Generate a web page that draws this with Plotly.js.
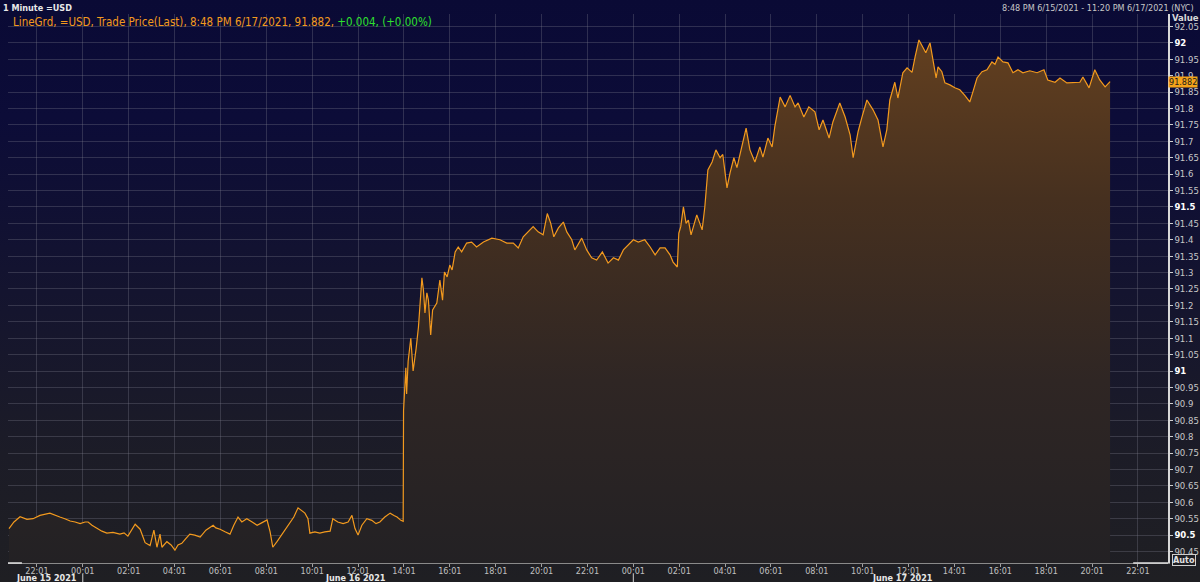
<!DOCTYPE html>
<html>
<head>
<meta charset="utf-8">
<script src="https://cdn.plot.ly/plotly-3.0.1.min.js"></script>
<style>
  html, body { margin: 0; padding: 0; background: #0b0b2c; }
  #chart { width: 1200px; height: 582px;
    background: linear-gradient(to bottom, #0a0a35 0%, #0c0c38 20%, #14142f 50%, #1c1c27 78%, #1f1f23 100%); }
</style>
</head>
<body>
<div id="chart"></div>
<script>
// ---- data ----
const startTime = '2021-06-15T20:48:00';          // first 1-minute bar
// minutes after start time
const minutesAfterStart = [
  0, 13, 29, 47, 63, 81, 107, 120, 133, 146, 160, 173, 186, 199, 207, 217, 230, 243, 256, 272,
  290, 301, 311, 322, 330, 343, 356, 369, 379, 387, 395, 400, 413, 424, 434, 442, 452, 463, 473, 486,
  500, 515, 534, 541, 552, 565, 578, 588, 599, 609, 622, 636, 649, 662, 675, 683, 690, 701, 714, 724,
  735, 745, 756, 766, 774, 782, 787, 800, 813, 826, 840, 847, 860, 874, 887, 897, 905, 913, 923, 936,
  949, 960, 970, 983, 997, 1007, 1015, 1025, 1031, 1032, 1034, 1038, 1040, 1044, 1051, 1057, 1065, 1071, 1080, 1084,
  1088, 1093, 1097, 1103, 1108, 1119, 1127, 1134, 1139, 1146, 1153, 1159, 1167, 1175, 1184, 1197, 1210, 1223, 1241, 1263,
  1284, 1302, 1319, 1332, 1345, 1354, 1371, 1384, 1397, 1408, 1417, 1425, 1437, 1450, 1459, 1472, 1480, 1498, 1511, 1524,
  1537, 1552, 1567, 1581, 1594, 1607, 1620, 1633, 1646, 1663, 1677, 1690, 1703, 1716, 1729, 1737, 1748, 1752, 1757, 1764,
  1771, 1777, 1784, 1799, 1813, 1820, 1828, 1839, 1849, 1860, 1867, 1878, 1886, 1896, 1904, 1917, 1928, 1938, 1951, 1964,
  1972, 1985, 1996, 2003, 2017, 2030, 2043, 2056, 2064, 2079, 2092, 2108, 2119, 2129, 2145, 2155, 2173, 2187, 2200, 2208,
  2221, 2231, 2244, 2260, 2273, 2286, 2296, 2304, 2317, 2325, 2338, 2349, 2362, 2370, 2380, 2391, 2398, 2409, 2417, 2425,
  2430, 2440, 2448, 2461, 2474, 2487, 2500, 2513, 2521, 2532, 2545, 2558, 2571, 2579, 2587, 2600, 2613, 2626, 2639, 2652,
  2670, 2689, 2707, 2717, 2736, 2749, 2767, 2783, 2801, 2809, 2825, 2840, 2853, 2867, 2880
];
const lastPrice = [
  90.520, 90.540, 90.556, 90.548, 90.550, 90.560, 90.567, 90.560, 90.555, 90.550, 90.543, 90.540, 90.535, 90.540, 90.540, 90.530, 90.520, 90.512, 90.506, 90.508,
  90.503, 90.507, 90.497, 90.520, 90.533, 90.518, 90.477, 90.468, 90.515, 90.463, 90.503, 90.463, 90.480, 90.470, 90.454, 90.470, 90.475, 90.490, 90.503, 90.500,
  90.494, 90.515, 90.530, 90.522, 90.518, 90.510, 90.503, 90.530, 90.555, 90.540, 90.550, 90.540, 90.530, 90.538, 90.546, 90.510, 90.463, 90.480, 90.503, 90.520,
  90.540, 90.555, 90.583, 90.575, 90.567, 90.550, 90.506, 90.510, 90.506, 90.510, 90.512, 90.550, 90.540, 90.535, 90.540, 90.560, 90.520, 90.500, 90.530, 90.550,
  90.545, 90.535, 90.540, 90.555, 90.567, 90.560, 90.555, 90.545, 90.542, 90.880, 90.930, 91.010, 90.930, 91.030, 91.100, 91.000, 91.070, 91.134, 91.284, 91.247,
  91.177, 91.238, 91.216, 91.110, 91.186, 91.207, 91.277, 91.216, 91.302, 91.287, 91.323, 91.308, 91.363, 91.378, 91.363, 91.390, 91.393, 91.378, 91.393, 91.405,
  91.400, 91.390, 91.390, 91.375, 91.409, 91.420, 91.440, 91.424, 91.415, 91.480, 91.450, 91.409, 91.436, 91.454, 91.424, 91.400, 91.369, 91.405, 91.369, 91.345,
  91.338, 91.363, 91.329, 91.345, 91.338, 91.369, 91.384, 91.400, 91.393, 91.400, 91.378, 91.354, 91.375, 91.375, 91.354, 91.332, 91.317, 91.420, 91.440, 91.500,
  91.450, 91.460, 91.415, 91.476, 91.430, 91.500, 91.613, 91.637, 91.674, 91.650, 91.660, 91.558, 91.604, 91.650, 91.620, 91.683, 91.740, 91.674, 91.637, 91.683,
  91.652, 91.710, 91.683, 91.744, 91.835, 91.805, 91.840, 91.805, 91.817, 91.774, 91.805, 91.790, 91.735, 91.765, 91.710, 91.759, 91.817, 91.774, 91.720, 91.650,
  91.730, 91.774, 91.826, 91.796, 91.765, 91.683, 91.735, 91.826, 91.880, 91.832, 91.909, 91.924, 91.910, 91.957, 92.009, 91.985, 91.970, 92.000, 91.939, 91.893,
  91.927, 91.912, 91.878, 91.872, 91.863, 91.857, 91.840, 91.820, 91.850, 91.893, 91.912, 91.918, 91.942, 91.935, 91.957, 91.942, 91.939, 91.909, 91.918, 91.909,
  91.915, 91.909, 91.918, 91.887, 91.880, 91.893, 91.878, 91.878, 91.880, 91.896, 91.863, 91.918, 91.887, 91.866, 91.882
];
const xTickTimes = [
  '2021-06-15 22:01', '2021-06-16 00:01', '2021-06-16 02:01', '2021-06-16 04:01', '2021-06-16 06:01',
  '2021-06-16 08:01', '2021-06-16 10:01', '2021-06-16 12:01', '2021-06-16 14:01', '2021-06-16 16:01',
  '2021-06-16 18:01', '2021-06-16 20:01', '2021-06-16 22:01', '2021-06-17 00:01', '2021-06-17 02:01',
  '2021-06-17 04:01', '2021-06-17 06:01', '2021-06-17 08:01', '2021-06-17 10:01', '2021-06-17 12:01',
  '2021-06-17 14:01', '2021-06-17 16:01', '2021-06-17 18:01', '2021-06-17 20:01', '2021-06-17 22:01'
];
const xTickLabels = xTickTimes.map(t => t.slice(11));
const dayLabels = ['June 15 2021', 'June 16 2021', 'June 17 2021'];
const dayLabelTimes = ['2021-06-15 22:25', '2021-06-16 11:55', '2021-06-17 11:45'];
const dayBreaks = ['2021-06-16 00:01', '2021-06-17 00:01'];
const yTickValues = [90.45, 90.5, 90.55, 90.6, 90.65, 90.7, 90.75, 90.8, 90.85, 90.9, 90.95, 91, 91.05, 91.1,
  91.15, 91.2, 91.25, 91.3, 91.35, 91.4, 91.45, 91.5, 91.55, 91.6, 91.65, 91.7, 91.75, 91.8, 91.85, 91.9, 91.95, 92, 92.05];
const yTickLabels = ['90.45', '90.5', '90.55', '90.6', '90.65', '90.7', '90.75', '90.8', '90.85', '90.9', '90.95', '91', '91.05', '91.1',
  '91.15', '91.2', '91.25', '91.3', '91.35', '91.4', '91.45', '91.5', '91.55', '91.6', '91.65', '91.7', '91.75', '91.8', '91.85', '91.9', '91.95', '92', '92.05'];
const majorTicks = ['90.5', '91', '91.5', '92'];
const headerLeft = '1 Minute =USD';
const headerRight = '8:48 PM 6/15/2021 - 11:20 PM 6/17/2021 (NYC)';
const legendMain = 'LineGrd, =USD, Trade Price(Last), 8:48 PM 6/17/2021, 91.882, ';
const legendChange = '+0.004, (+0.00%)';
const xRange = ['2021-06-15 20:45:24', '2021-06-17 23:19:30'];
const yRange = [90.415, 92.088];

// ---- build the time axis values ----
function pad(n) { return (n < 10 ? '0' : '') + n; }
const t0 = new Date(startTime + 'Z').getTime();
const times = minutesAfterStart.map(m => {
  const d = new Date(t0 + m * 60000);
  return d.getUTCFullYear() + '-' + pad(d.getUTCMonth() + 1) + '-' + pad(d.getUTCDate()) + ' ' +
         pad(d.getUTCHours()) + ':' + pad(d.getUTCMinutes());
});

const FONT = 'DejaVu Sans Condensed, Liberation Sans, sans-serif';
const ORANGE = '#f39a1e';

const trace = {
  type: 'scatter', mode: 'lines', x: times, y: lastPrice,
  line: { color: ORANGE, width: 1.2 },
  fill: 'tozeroy',
  fillgradient: {
    type: 'vertical', start: 90.415, stop: 92.0,
    colorscale: [[0, '#232124'], [0.35, '#2f2624'], [0.7, '#46301f'], [1, '#623f1f']]
  },
  hoverinfo: 'x+y'
};

const annotations = [
  { xref: 'paper', yref: 'paper', x: -0.006, y: 1.0, xanchor: 'left', yanchor: 'bottom', yshift: -1,
    text: '<b>' + headerLeft + '</b>', showarrow: false, font: { family: FONT, size: 9, color: '#e8e8e8' } },
  { xref: 'paper', yref: 'paper', x: 1.0, y: 1.0, xanchor: 'right', yanchor: 'bottom', xshift: 28, yshift: -1,
    text: headerRight, showarrow: false, font: { family: FONT, size: 9, color: '#c8c8c8' } },
  { xref: 'paper', yref: 'paper', x: 0.003, y: 1.0, xanchor: 'left', yanchor: 'top', yshift: 1,
    text: legendMain + '<span style="color:#2fe02f">' + legendChange + '</span>', showarrow: false,
    font: { family: FONT, size: 11.5, color: ORANGE } },
  { xref: 'paper', yref: 'paper', x: 1.0, y: 1.0, xanchor: 'left', yanchor: 'top', xshift: 2, yshift: 4,
    text: '<b>Value</b>', showarrow: false, font: { family: FONT, size: 9.5, color: '#d8d8d8' } },
  { xref: 'paper', yref: 'y', x: 1.0, y: lastPrice[lastPrice.length - 1], xanchor: 'left', yanchor: 'middle',
    text: lastPrice[lastPrice.length - 1].toFixed(3), showarrow: false, bgcolor: '#f5a31a', borderpad: 0,
    font: { family: FONT, size: 9, color: '#1a1a1a' } },
  { xref: 'paper', yref: 'paper', x: 1.0, y: 0, xanchor: 'left', yanchor: 'top', xshift: 4, yshift: 9,
    text: '<b>Auto</b>', showarrow: false, bordercolor: '#cfcfcf', borderwidth: 1, borderpad: 0,
    font: { family: FONT, size: 9, color: '#e0e0e0' } }
];
dayLabels.forEach((lab, i) => {
  annotations.push({ xref: 'x', yref: 'paper', x: dayLabelTimes[i], y: 0, xanchor: 'center', yanchor: 'middle',
    yshift: -15, text: '<b>' + lab + '</b>', showarrow: false, borderpad: 0,
    font: { family: FONT, size: 9, color: '#e8e8e8' } });
});

const shapes = dayBreaks.map(t => ({
  type: 'line', xref: 'x', yref: 'paper', x0: t, x1: t, y0: -0.02, y1: -0.04,
  line: { color: '#d0d0d0', width: 1 }
}));
// light corner marks of the plot frame
shapes.push({ type: 'line', xref: 'paper', yref: 'paper', x0: 0, x1: 0.012, y0: 0, y1: 0, line: { color: '#e0e0e0', width: 1.5 } });
shapes.push({ type: 'line', xref: 'paper', yref: 'paper', x0: 0.97, x1: 1, y0: 0, y1: 0, line: { color: '#e0e0e0', width: 1.5 } });

const layout = {
  width: 1200, height: 582,
  margin: { l: 8, r: 32, t: 14, b: 19, pad: 0 },
  paper_bgcolor: 'rgba(0,0,0,0)',
  plot_bgcolor: 'rgba(0,0,0,0)',
  showlegend: false,
  font: { family: FONT, color: '#c8c8c8' },
  xaxis: {
    type: 'date', range: xRange, fixedrange: true,
    tickmode: 'array', tickvals: xTickTimes, ticktext: xTickLabels,
    ticks: 'outside', ticklen: 3, tickcolor: '#a0a0a0',
    ticklabelstandoff: -4,
    tickfont: { family: FONT, size: 9, color: '#c0c0c0' },
    showgrid: true, gridcolor: 'rgba(125,125,140,0.32)', gridwidth: 1,
    showline: true, linecolor: '#8a8a8a', linewidth: 1,
    zeroline: false
  },
  yaxis: {
    side: 'right', range: yRange, fixedrange: true,
    tickmode: 'array', tickvals: yTickValues,
    ticktext: yTickLabels.map(s => majorTicks.includes(s) ? '<b><span style="color:#ffffff">' + s + '</span></b>' : s),
    ticks: 'outside', ticklen: 3, tickcolor: '#cfcfcf',
    tickfont: { family: FONT, size: 9.5, color: '#c8c8c8' },
    showgrid: true, gridcolor: 'rgba(125,125,140,0.32)', gridwidth: 1,
    showline: true, linecolor: '#d8d8d8', linewidth: 1.5,
    zeroline: false
  },
  annotations: annotations,
  shapes: shapes
};

Plotly.newPlot('chart', [trace], layout, { displayModeBar: false, staticPlot: true });
</script>
</body>
</html>
